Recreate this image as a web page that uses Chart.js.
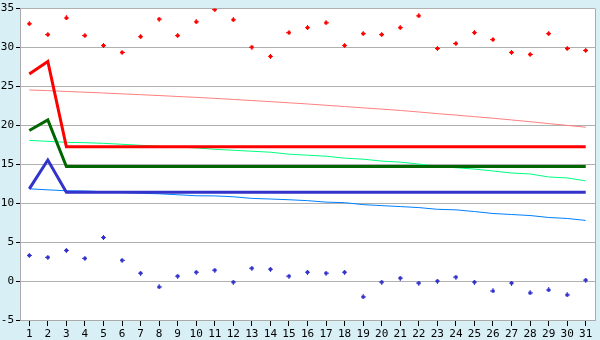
<!DOCTYPE html>
<html><head><meta charset="utf-8">
<script src="https://cdn.jsdelivr.net/npm/chart.js@4/dist/chart.umd.min.js"></script>
<style>html,body{margin:0;padding:0;background:#D9EFF6;} #wrap{width:600px;height:340px;}</style>
</head><body><div id="wrap"><canvas id="c" width="600" height="340"></canvas></div>
<script>
const days = ["1","2","3","4","5","6","7","8","9","10","11","12","13","14","15","16","17","18","19","20","21","22","23","24","25","26","27","28","29","30","31"];
const yTickValues = [-5, 0, 5, 10, 15, 20, 25, 30, 35];

const highPoints = [33.05,31.66,33.8,31.53,30.26,29.37,31.4,33.65,31.53,33.3,34.87,33.56,30.05,28.87,31.91,32.55,33.18,30.26,31.78,31.66,32.55,34.07,29.88,30.51,31.91,31.02,29.37,29.12,31.78,29.88,29.63];
const lowPoints = [3.3,3.05,3.94,2.92,5.59,2.67,1.02,-0.76,0.63,1.14,1.4,-0.13,1.65,1.52,0.63,1.14,1.02,1.14,-2.03,-0.13,0.38,-0.25,0,0.51,-0.13,-1.27,-0.25,-1.52,-1.14,-1.78,0.13];

const redThick = [26.6,28.2,17.26,17.26,17.26,17.26,17.26,17.26,17.26,17.26,17.26,17.26,17.26,17.26,17.26,17.26,17.26,17.26,17.26,17.26,17.26,17.26,17.26,17.26,17.26,17.26,17.26,17.26,17.26,17.26,17.26];
const greenThick = [19.34,20.7,14.72,14.72,14.72,14.72,14.72,14.72,14.72,14.72,14.72,14.72,14.72,14.72,14.72,14.72,14.72,14.72,14.72,14.72,14.72,14.72,14.72,14.72,14.72,14.72,14.72,14.72,14.72,14.72,14.72];
const blueThick = [11.85,15.55,11.42,11.42,11.42,11.42,11.42,11.42,11.42,11.42,11.42,11.42,11.42,11.42,11.42,11.42,11.42,11.42,11.42,11.42,11.42,11.42,11.42,11.42,11.42,11.42,11.42,11.42,11.42,11.42,11.42];

const redTrend = [24.55,24.46,24.36,24.26,24.16,24.05,23.94,23.83,23.71,23.6,23.47,23.33,23.19,23.05,22.9,22.75,22.58,22.42,22.25,22.09,21.92,21.72,21.51,21.32,21.12,20.92,20.7,20.47,20.23,20.0,19.76];
const greenTrend = [18.07,17.95,17.82,17.78,17.69,17.57,17.44,17.32,17.22,17.1,16.93,16.8,16.68,16.55,16.3,16.17,16.04,15.79,15.66,15.41,15.28,15.03,14.75,14.56,14.39,14.14,13.88,13.76,13.37,13.25,12.87];
const blueTrend = [11.85,11.72,11.6,11.57,11.48,11.38,11.28,11.21,11.09,10.96,10.94,10.83,10.62,10.54,10.45,10.33,10.14,10.07,9.82,9.69,9.57,9.44,9.22,9.15,8.93,8.68,8.55,8.42,8.17,8.04,7.79];

function marker(color){
  const pattern = ["..X..", ".XXX.", "XXXXX", ".XXX.", "..X.."];
  const cv = document.createElement('canvas');
  cv.width = 5; cv.height = 5;
  const cx = cv.getContext('2d');
  cx.fillStyle = color;
  pattern.forEach((row, r) => { for (let c = 0; c < row.length; c++) if (row[c] === 'X') cx.fillRect(c, r, 1, 1); });
  return cv;
}

const plotFrame = {
  id: 'plotFrame',
  beforeDraw(chart){
    const {ctx, chartArea:a} = chart;
    ctx.save();
    ctx.fillStyle = '#D9EFF6';
    ctx.fillRect(0, 0, chart.width, chart.height);
    ctx.fillStyle = '#FFFFFF';
    ctx.fillRect(a.left, a.top, a.right - a.left, a.bottom - a.top);
    ctx.restore();
  },
  beforeDatasetsDraw(chart){
    const {ctx, chartArea:a} = chart;
    ctx.save();
    ctx.strokeStyle = '#AAAAAA';
    ctx.lineWidth = 1;
    ctx.beginPath();
    ctx.moveTo(Math.round(a.right) + 0.5, a.top);
    ctx.lineTo(Math.round(a.right) + 0.5, a.bottom);
    ctx.stroke();
    ctx.restore();
  }
};

const tickFont = {family: 'DejaVu Sans Mono', size: 11};

new Chart(document.getElementById('c'), {
  type: 'line',
  data: {
    labels: days,
    datasets: [
      {data: highPoints, showLine: false, pointStyle: marker('#FF0000'), pointRadius: 3, order: 0},
      {data: lowPoints, showLine: false, pointStyle: marker('#3333CC'), pointRadius: 3, order: 0},
      {data: redThick, borderColor: '#FF0000', borderWidth: 3, pointRadius: 0, tension: 0, order: 1},
      {data: greenThick, borderColor: '#006600', borderWidth: 3, pointRadius: 0, tension: 0, order: 1},
      {data: blueThick, borderColor: '#3333CC', borderWidth: 3, pointRadius: 0, tension: 0, order: 1},
      {data: redTrend, borderColor: '#FF8080', borderWidth: 1, pointRadius: 0, tension: 0, order: 2},
      {data: greenTrend, borderColor: '#00FF80', borderWidth: 1, pointRadius: 0, tension: 0, order: 2},
      {data: blueTrend, borderColor: '#0080FF', borderWidth: 1, pointRadius: 0, tension: 0, order: 2}
    ]
  },
  options: {
    responsive: false,
    animation: false,
    devicePixelRatio: 1,
    layout: {padding: {top: 5, right: 5, left: 0, bottom: 0}},
    plugins: {legend: {display: false}, tooltip: {enabled: false}},
    scales: {
      x: {
        offset: true,
        grid: {drawOnChartArea: false, offset: false, tickLength: 6, tickColor: '#000000', color: '#AAAAAA'},
        border: {display: true, color: '#AAAAAA'},
        ticks: {font: tickFont, color: '#000000', padding: 2, maxRotation: 0, autoSkip: false},
        afterFit(s){ s.height = 20; }
      },
      y: {
        min: -5, max: 35,
        afterBuildTicks(s){ s.ticks = yTickValues.map(v => ({value: v})); },
        grid: {color: '#B0B0B0', tickLength: 4, tickColor: '#000000'},
        border: {display: true, color: '#AAAAAA'},
        ticks: {font: tickFont, color: '#000000', padding: 2},
        afterFit(s){ s.width = 20; }
      }
    }
  },
  plugins: [plotFrame]
});
</script>
</body></html>
